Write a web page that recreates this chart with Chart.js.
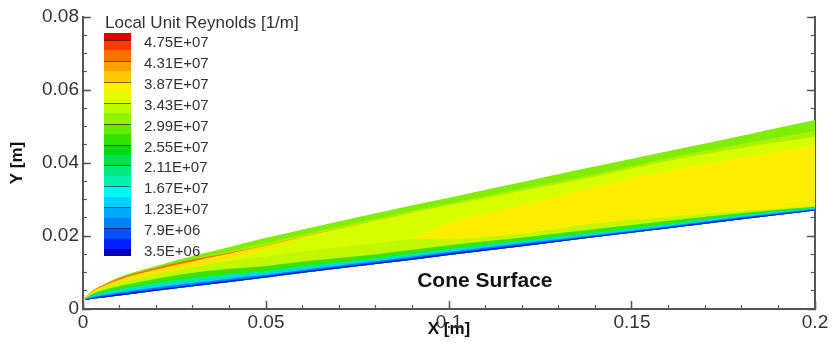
<!DOCTYPE html>
<html>
<head>
<meta charset="utf-8">
<title>Local Unit Reynolds</title>
<script src="https://cdn.jsdelivr.net/npm/chart.js@4.4.1/dist/chart.umd.min.js"></script>
<style>
  html, body { margin: 0; padding: 0; background: #fff; }
  #wrap { width: 832px; height: 343px; }
</style>
</head>
<body>
<div id="wrap"><canvas id="reChart" width="832" height="343"></canvas></div>
<script>
// stations along the cone axis [m]
const xs = [0, 0.0025, 0.005, 0.01, 0.02, 0.03, 0.04, 0.05, 0.06, 0.08, 0.09, 0.1, 0.12, 0.14, 0.16, 0.18, 0.2];

// contour band edges, Y [m] at each station, from the cone wall up to the shock
const wallY   = [0.0025, 0.0028, 0.0031, 0.0037, 0.0050, 0.0062, 0.0074, 0.0086, 0.0099, 0.0123, 0.0135, 0.0148, 0.0172, 0.0197, 0.0221, 0.0246, 0.0270];
const edge1Y  = [0.0025, 0.0030, 0.0034, 0.0041, 0.0054, 0.0066, 0.0078, 0.0090, 0.0103, 0.0127, 0.0139, 0.0152, 0.0176, 0.0200, 0.0224, 0.0249, 0.0272];
const edge2Y  = [0.0025, 0.0032, 0.0037, 0.0045, 0.0059, 0.0071, 0.0083, 0.0094, 0.0107, 0.0131, 0.0143, 0.0156, 0.0180, 0.0203, 0.0227, 0.0252, 0.0274];
const edge3Y  = [0.0025, 0.0035, 0.0041, 0.0050, 0.0065, 0.0078, 0.0089, 0.0099, 0.0112, 0.0135, 0.0147, 0.0160, 0.0184, 0.0206, 0.0230, 0.0255, 0.0276];
const edge4Y  = [0.0025, 0.0038, 0.0045, 0.0055, 0.0072, 0.0085, 0.0096, 0.0105, 0.0118, 0.0140, 0.0152, 0.0165, 0.0188, 0.0210, 0.0234, 0.0258, 0.0278];
const edge5Y  = [0.0025, 0.0041, 0.0050, 0.0063, 0.0083, 0.0099, 0.0110, 0.0118, 0.0130, 0.0150, 0.0162, 0.0175, 0.0196, 0.0219, 0.0242, 0.0263, 0.0280];
const edge6Y  = [0.0025, 0.0044, 0.0055, 0.0072, 0.0095, 0.0115, 0.0132, 0.0144, 0.0158, 0.0180, 0.0191, 0.0192, 0.0207, 0.0235, 0.0253, 0.0269, 0.0282];
const edge7Y  = [0.0025, 0.0044, 0.0055, 0.0072, 0.0095, 0.0115, 0.0132, 0.0144, 0.0158, 0.0180, 0.0193, 0.0236, 0.0285, 0.0335, 0.0380, 0.0414, 0.0447];
const edge8Y  = [0.0025, 0.0044, 0.0055, 0.0072, 0.0095, 0.0115, 0.0138, 0.0164, 0.0194, 0.0242, 0.0264, 0.0284, 0.0324, 0.0363, 0.0406, 0.0442, 0.0472];
const edge9Y  = [0.0025, 0.0047, 0.0060, 0.0081, 0.0108, 0.0131, 0.0152, 0.0174, 0.0198, 0.0242, 0.0264, 0.0284, 0.0324, 0.0363, 0.0406, 0.0442, 0.0472];
const edge10Y = [0.0025, 0.0049, 0.0063, 0.0085, 0.0113, 0.0136, 0.0155, 0.0175, 0.0198, 0.0242, 0.0264, 0.0284, 0.0324, 0.0363, 0.0406, 0.0442, 0.0472];
const edge11Y = [0.0025, 0.0049, 0.0063, 0.0085, 0.0113, 0.0136, 0.0158, 0.0181, 0.0204, 0.0247, 0.0269, 0.0289, 0.0330, 0.0370, 0.0414, 0.0452, 0.0488];
const shockY  = [0.0025, 0.0050, 0.0064, 0.0088, 0.0118, 0.0145, 0.0170, 0.0195, 0.0218, 0.0262, 0.0284, 0.0305, 0.0348, 0.0391, 0.0433, 0.0475, 0.0518];

// colour of the band lying just below each edge
const bandColors = ["#0a0ae6", "#0078ff", "#00d4ff", "#00eaa0", "#38e400", "#bff800",
                    "#ffee00", "#d6ff00", "#ffe600", "#ff6a00", "#a8f400", "#80ee00"];

// legend levels [1/m] and the colour bar, bottom to top
const reynoldsLevels = [3.5e6, 7.9e6, 1.23e7, 1.67e7, 2.11e7, 2.55e7, 2.99e7, 3.43e7, 3.87e7, 4.31e7, 4.75e7];
const barColors = ["#0000b4", "#0020ff", "#0050ff", "#0080ff", "#00a8ff", "#00d0ff",
                   "#00f8f0", "#00f0b0", "#00e880", "#00e050", "#00dc10", "#30e400",
                   "#60ec00", "#90f400", "#bcfc00", "#e0ff00", "#fff000", "#ffc800",
                   "#ffa000", "#ff7000", "#ff3c00", "#dc0000"];

const fontFamily = '"Liberation Sans", Arial, Helvetica, sans-serif';
const axisColor = "#555";

function tecplotExp(v) {
  let [m, e] = v.toExponential().split("e");
  return m + "E" + e[0] + e.slice(1).padStart(2, "0");
}

const edges = [edge1Y, edge2Y, edge3Y, edge4Y, edge5Y, edge6Y, edge7Y, edge8Y, edge9Y, edge10Y, edge11Y, shockY];
const wallIndex = edges.length;

// every band is filled down to the wall; upper ones are painted first
let datasets = edges.map((ys, i) => ({
  label: "band " + (i + 1),
  data: xs.map((x, j) => ({ x: x, y: ys[j] })),
  backgroundColor: bandColors[i],
  borderWidth: 0,
  pointRadius: 0,
  fill: wallIndex,
  cubicInterpolationMode: "monotone",
}));
datasets.push({
  label: "wall",
  data: xs.map((x, j) => ({ x: x, y: wallY[j] })),
  borderWidth: 0,
  pointRadius: 0,
  fill: false,
});

const colorbarPlugin = {
  id: "colorbar",
  afterDraw(chart) {
    const c = chart.ctx;
    const left = 104, width = 27, top = 33, bottom = 256, endBand = 7;
    const step = (bottom - top - 2 * endBand) / (barColors.length - 2);
    const levelY = (k) => bottom - endBand - k * step;
    c.save();

    c.font = "17px " + fontFamily;
    c.fillStyle = "#333";
    c.textBaseline = "middle";
    c.textAlign = "left";
    c.fillText("Local Unit Reynolds [1/m]", 105, 23);

    barColors.forEach((col, j) => {
      let y0 = j === 0 ? bottom : levelY(j - 1);
      let y1 = j === barColors.length - 1 ? top : levelY(j);
      c.fillStyle = col;
      c.fillRect(left, Math.round(y1), width, Math.round(y0) - Math.round(y1));
    });

    c.strokeStyle = "rgba(0,0,0,0.55)";
    c.lineWidth = 1;
    c.font = "15px " + fontFamily;
    c.fillStyle = "#333";
    reynoldsLevels.forEach((lvl, i) => {
      let y = Math.round(levelY(i * 2)) + 0.5;
      c.beginPath();
      c.moveTo(left, y);
      c.lineTo(left + width, y);
      c.stroke();
      c.fillText(tecplotExp(lvl), 144, y + 2);
    });

    // label on the cone wall
    const sx = chart.scales.x, sy = chart.scales.y;
    c.font = "bold 21px " + fontFamily;
    c.fillStyle = "#111";
    c.textAlign = "center";
    c.fillText("Cone Surface", sx.getPixelForValue(0.1098), sy.getPixelForValue(0.0077));
    c.restore();
  },
};

const tickFont = { family: fontFamily, size: 19 };
const majorGrid = { drawOnChartArea: false, drawTicks: true, tickLength: -8, tickColor: axisColor, tickWidth: 1.5 };
const minorGrid = { drawOnChartArea: false, drawTicks: true, tickLength: -4, tickColor: axisColor, tickWidth: 1.2 };
const blank = () => "";

// fixed box size, and no extra room asked for the end labels
function fixBox(w, h) {
  return (s) => {
    if (w !== null) s.width = w;
    if (h !== null) s.height = h;
    s.paddingLeft = s.paddingRight = s.paddingTop = s.paddingBottom = 0;
  };
}

new Chart(document.getElementById("reChart"), {
  type: "line",
  data: { datasets: datasets },
  options: {
    responsive: false,
    devicePixelRatio: 1,
    animation: false,
    layout: { padding: { top: 17, right: 17, left: 0, bottom: 0 } },
    plugins: {
      legend: { display: false },
      tooltip: { enabled: false },
    },
    scales: {
      x: {
        type: "linear", axis: "x", position: "bottom", min: 0, max: 0.2, weight: 1,
        ticks: { stepSize: 0.05, autoSkip: false, maxRotation: 0, padding: 10, color: "#333", font: tickFont,
                 callback: (v) => String(+v.toFixed(3)) },
        grid: majorGrid,
        border: { display: true, color: axisColor, width: 2 },
        title: { display: true, text: "X [m]", color: "#111", font: { family: fontFamily, size: 17, weight: "bold" },
                 padding: { top: 0, bottom: 3 } },
        afterFit: fixBox(null, 34),
      },
      xMinor: {
        type: "linear", axis: "x", position: "bottom", min: 0, max: 0.2, weight: 0,
        ticks: { stepSize: 0.01, autoSkip: false, callback: blank },
        grid: minorGrid,
        border: { display: false },
        afterFit: fixBox(null, 0),
      },
      y: {
        type: "linear", axis: "y", position: "left", min: 0, max: 0.08, weight: 1,
        ticks: { stepSize: 0.02, autoSkip: false, padding: 12, color: "#333", font: tickFont,
                 callback: (v) => String(+v.toFixed(3)) },
        grid: majorGrid,
        border: { display: true, color: axisColor, width: 2 },
        title: { display: true, text: "Y [m]", color: "#111", font: { family: fontFamily, size: 17, weight: "bold" },
                 padding: { top: 7, bottom: 0 } },
        afterFit: fixBox(83, null),
      },
      yMinor: {
        type: "linear", axis: "y", position: "left", min: 0, max: 0.08, weight: 0,
        ticks: { stepSize: 0.005, autoSkip: false, callback: blank },
        grid: minorGrid,
        border: { display: false },
        afterFit: fixBox(0, null),
      },
      yRight: {
        type: "linear", axis: "y", position: "right", min: 0, max: 0.08, weight: 1,
        ticks: { stepSize: 0.02, autoSkip: false, callback: blank },
        grid: majorGrid,
        border: { display: true, color: axisColor, width: 2 },
        afterFit: fixBox(0, null),
      },
      yRightMinor: {
        type: "linear", axis: "y", position: "right", min: 0, max: 0.08, weight: 0,
        ticks: { stepSize: 0.005, autoSkip: false, callback: blank },
        grid: minorGrid,
        border: { display: false },
        afterFit: fixBox(0, null),
      },
    },
  },
  plugins: [colorbarPlugin],
});
</script>
</body>
</html>
